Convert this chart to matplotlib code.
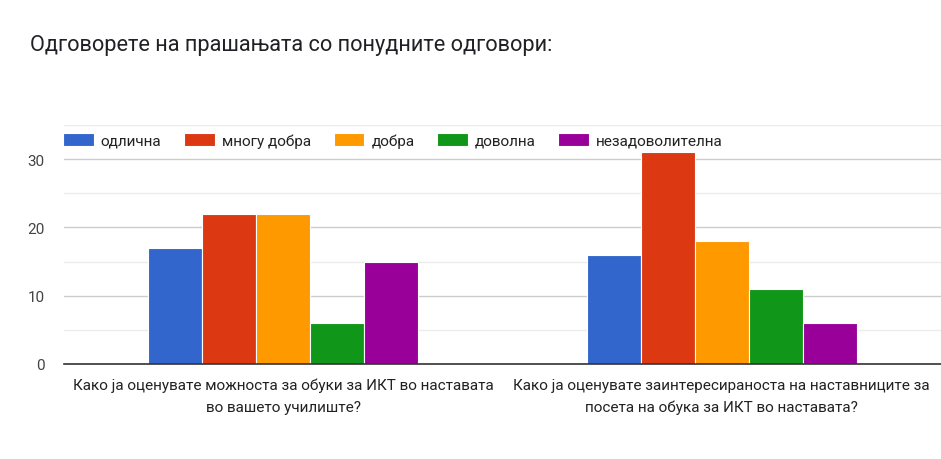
import numpy as np
import matplotlib
matplotlib.use('Agg')
import matplotlib.pyplot as plt

# podatoci od grafikonot
questions = ['Како ја оценувате можноста за обуки за ИКТ во наставата\nво вашето училиште?',
             'Како ја оценувате заинтересираноста на наставниците за\nпосета на обука за ИКТ во наставата?']
answers = ['одлична', 'многу добра', 'добра', 'доволна', 'незадоволителна']
odlicna = [17, 16]
mnogu_dobra = [22, 31]
dobra = [22, 18]
dovolna = [6, 11]
nezadovolitelna = [15, 6]
colors = ['#3366cc', '#dc3912', '#ff9900', '#109618', '#990099']

series = [odlicna, mnogu_dobra, dobra, dovolna, nezadovolitelna]

plt.rcParams['font.family'] = ['Roboto', 'DejaVu Sans']

fig = plt.figure(figsize=(9.41, 4.60), dpi=100)
ax = fig.add_axes([64/941, 95/460, 877/941, 239/460])

x = np.arange(len(questions))
w = 0.123
for i, (vals, name) in enumerate(zip(series, answers)):
    ax.bar(x + (i - 2) * w, vals, width=w, color=colors[i], edgecolor='white',
           linewidth=0.8, label=name, zorder=3)

ax.set_xlim(-0.5, 1.5)
ax.set_ylim(0, 35)
ax.set_yticks([0, 10, 20, 30])
ax.set_yticks([5, 15, 25, 35], minor=True)
ax.grid(axis='y', which='major', color='#cccccc', linewidth=1, zorder=0)
ax.grid(axis='y', which='minor', color='#ebebeb', linewidth=1, zorder=0)
ax.tick_params(axis='y', which='both', length=0, labelsize=11, labelcolor='#444444', pad=14)
ax.tick_params(axis='x', length=0, pad=10)
ax.set_xticks(x)
ax.set_xticklabels(questions, fontsize=11, color='#222222', linespacing=1.65,
                   family=['Liberation Sans Narrow', 'Roboto', 'DejaVu Sans'])
for s in ['top', 'right', 'left']:
    ax.spines[s].set_visible(False)
ax.spines['bottom'].set_color('#333333')
ax.spines['bottom'].set_linewidth(1.2)
ax.spines['bottom'].set_zorder(4)

leg = ax.legend(loc='upper left', bbox_to_anchor=(-0.006, 0.985), ncol=5, frameon=True,
                fontsize=11, handlelength=2.0, handleheight=0.9, handletextpad=0.45,
                columnspacing=1.5, borderaxespad=0, borderpad=0.3)
leg.get_frame().set_facecolor('white')
leg.get_frame().set_edgecolor('none')
leg.get_frame().set_alpha(1)
for t in leg.get_texts():
    t.set_color('#222222')

fig.text(30/941, 1 - 45/460, 'Одговорете на прашањата со понудните одговори:',
         fontsize=15.7, color='#202124', va='center', ha='left')

fig.savefig('out.png', dpi=100)
